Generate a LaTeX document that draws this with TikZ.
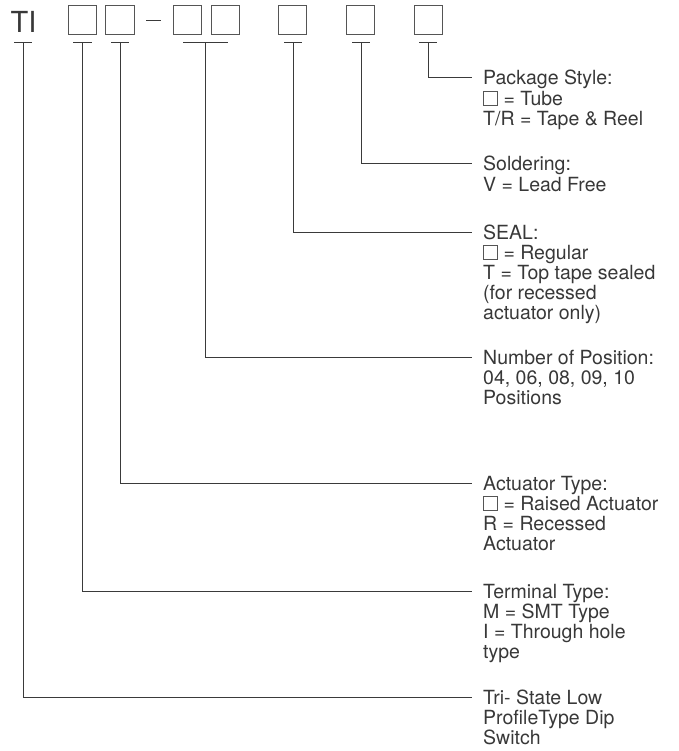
\documentclass[tikz,border=0pt]{standalone}
\usepackage{fontspec}
\setmainfont{TeX Gyre Heros}
\usetikzlibrary{calc}
\begin{document}
\definecolor{ink}{HTML}{383838}
\definecolor{linec}{HTML}{3A3A3A}
\definecolor{boxc}{HTML}{555555}
\newcommand\mysq{\textcolor{boxc}{\setlength\fboxrule{0.7pt}\setlength\fboxsep{0pt}\fbox{\rule{0pt}{13.5pt}\hspace{13.5pt}}}}
\begin{tikzpicture}[x=1pt,y=-1pt,
  codebox/.style={draw=boxc,line width=1.1pt,minimum size=28.5pt,inner sep=0pt},
  lead/.style={draw=linec,line width=1pt},
  desc/.style={anchor=base west,inner sep=0pt,text=ink,font=\fontsize{19.5}{20}\selectfont}]
\useasboundingbox (0,0) rectangle (678,751);
% code line
\node[anchor=base west,inner sep=0pt,text=ink,font=\fontsize{29}{29}\selectfont] (ti) at (10.5,33) {TI};
\node[codebox] (b1) at (82.5,20) {};
\node[codebox] (b2) at (120,20) {};
\draw[lead] (146,21) -- (161,21);
\node[codebox] (b3) at (187.5,20) {};
\node[codebox] (b4) at (225.5,20) {};
\node[codebox] (b5) at (292.5,20) {};
\node[codebox] (b6) at (360.5,20) {};
\node[codebox] (b7) at (428.5,20) {};
% T bars
\coordinate (t0) at (23,43);
\coordinate (t1) at (82,43);
\coordinate (t2) at (120,43);
\coordinate (t3) at (205,43);
\coordinate (t5) at (293,43);
\coordinate (t6) at (361,43);
\coordinate (t7) at (428.5,43);
\draw[lead] (14,43) -- (32,43);
\draw[lead] (73,43) -- (92,43);
\draw[lead] (111,43) -- (129,43);
\draw[lead] (183,43) -- (228,43);
\draw[lead] (284,43) -- (302,43);
\draw[lead] (352,43) -- (370,43);
\draw[lead] (419,43) -- (437,43);
% descriptions
\node[desc] (pkg) at (483,85) {\begin{tabular}[t]{@{}l@{}}Package Style:\\ \mysq{} = Tube\\ T/R = Tape \& Reel\end{tabular}};
\node[desc] (sol) at (483,171) {\begin{tabular}[t]{@{}l@{}}Soldering:\\ V = Lead Free\end{tabular}};
\node[desc] (seal) at (483,239) {\begin{tabular}[t]{@{}l@{}}SEAL:\\ \mysq{} = Regular\\ T = Top tape sealed\\ (for recessed\\ actuator only)\end{tabular}};
\node[desc] (num) at (483,364) {\begin{tabular}[t]{@{}l@{}}Number of Position:\\ 04, 06, 08, 09, 10\\ Positions\end{tabular}};
\node[desc] (act) at (483,490) {\begin{tabular}[t]{@{}l@{}}Actuator Type:\\ \mysq{} = Raised Actuator\\ R = Recessed\\ Actuator\end{tabular}};
\node[desc] (term) at (483,598) {\begin{tabular}[t]{@{}l@{}}Terminal Type:\\ M = SMT Type\\ I = Through hole\\ type\end{tabular}};
\node[desc] (tri) at (483,704) {\begin{tabular}[t]{@{}l@{}}Tri- State Low\\ ProfileType Dip\\ Switch\end{tabular}};
% connectors
\draw[lead] (t7) |- ($(pkg.base west)+(-11,-7)$);
\draw[lead] (t6) |- ($(sol.base west)+(-11,-7)$);
\draw[lead] (t5) |- ($(seal.base west)+(-11,-7)$);
\draw[lead] (t3) |- ($(num.base west)+(-11,-7)$);
\draw[lead] (t2) |- ($(act.base west)+(-11,-7)$);
\draw[lead] (t1) |- ($(term.base west)+(-11,-7)$);
\draw[lead] (t0) |- ($(tri.base west)+(-11,-7)$);
\end{tikzpicture}
\end{document}
